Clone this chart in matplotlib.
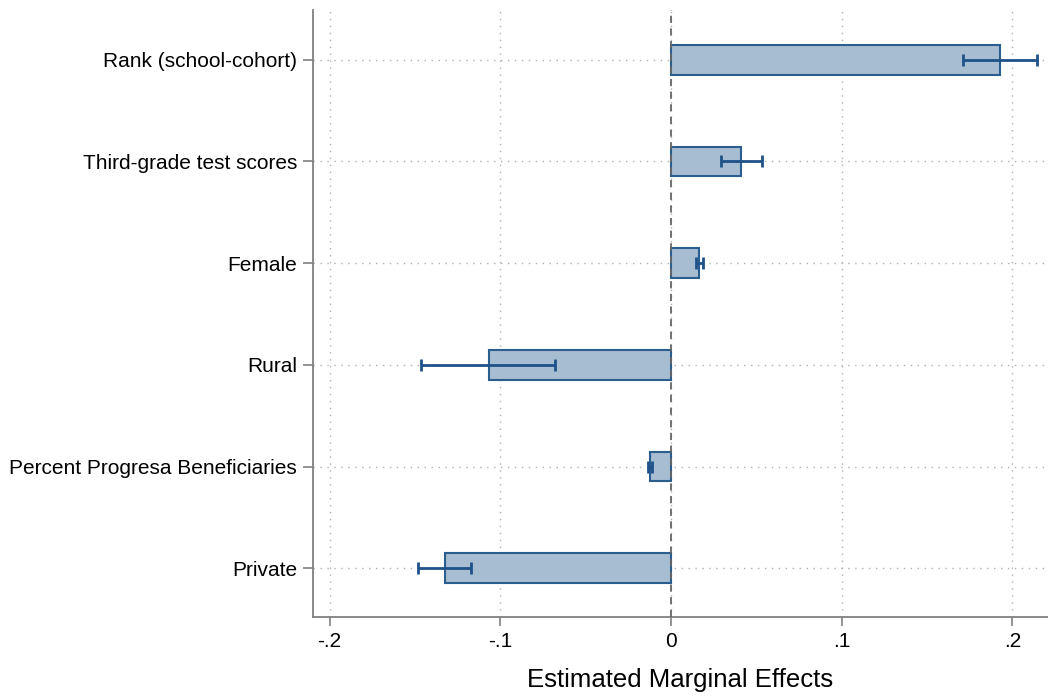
import matplotlib.pyplot as plt
import numpy as np

plt.rcParams['font.family'] = ['Liberation Sans', 'DejaVu Sans']

labels = ['Rank (school-cohort)', 'Third-grade test scores', 'Female',
          'Rural', 'Percent Progresa Beneficiaries', 'Private']
effects = [0.1927, 0.0408, 0.0164, -0.1068, -0.0123, -0.1324]
ci_low = [0.171, 0.0291, 0.0146, -0.1466, -0.0137, -0.1484]
ci_high = [0.2144, 0.0533, 0.0189, -0.0678, -0.0110, -0.1172]
xticks = [-0.2, -0.1, 0, 0.1, 0.2]
xticklabels = ['-.2', '-.1', '0', '.1', '.2']

fig = plt.figure(figsize=(10.48, 6.96), dpi=100)
ax = fig.add_axes([313 / 1048, 79 / 696, 735 / 1048, 607 / 696])

ypos = np.arange(len(labels))[::-1]
eff = np.array(effects)
err = np.array([eff - np.array(ci_low), np.array(ci_high) - eff])

ax.barh(ypos, eff, height=0.29, color='#a7bdd2', edgecolor='#2b5d8e',
        linewidth=1.5, zorder=3)
ax.errorbar(eff, ypos, xerr=err, fmt='none', ecolor='#1f5288',
            elinewidth=2, capsize=4.5, capthick=2, zorder=4)
ax.axvline(0, color='#666666', linestyle=(0, (4, 3)), linewidth=1.3, zorder=5)

ax.set_xlim(-0.2097, 0.2208)
ax.set_ylim(-0.48, 5.49)
ax.set_xticks(xticks)
ax.set_xticklabels(xticklabels)
ax.set_yticks(ypos)
ax.set_yticklabels(labels)
ax.grid(True, linestyle=(0, (1, 4)), color='#b0b0b0', linewidth=1, zorder=0)
ax.set_axisbelow(True)

ax.spines['top'].set_visible(False)
ax.spines['right'].set_visible(False)
for side in ['left', 'bottom']:
    ax.spines[side].set_color('#808080')
    ax.spines[side].set_linewidth(1.3)
ax.tick_params(axis='both', colors='#808080', labelcolor='black',
               labelsize=15, width=1.2)
ax.tick_params(axis='x', length=6.5, pad=4.5)
ax.tick_params(axis='y', length=7.2, pad=4.3)

ax.set_xlabel('Estimated Marginal Effects', fontsize=18.5, labelpad=12)

fig.savefig('out.png', dpi=100)
